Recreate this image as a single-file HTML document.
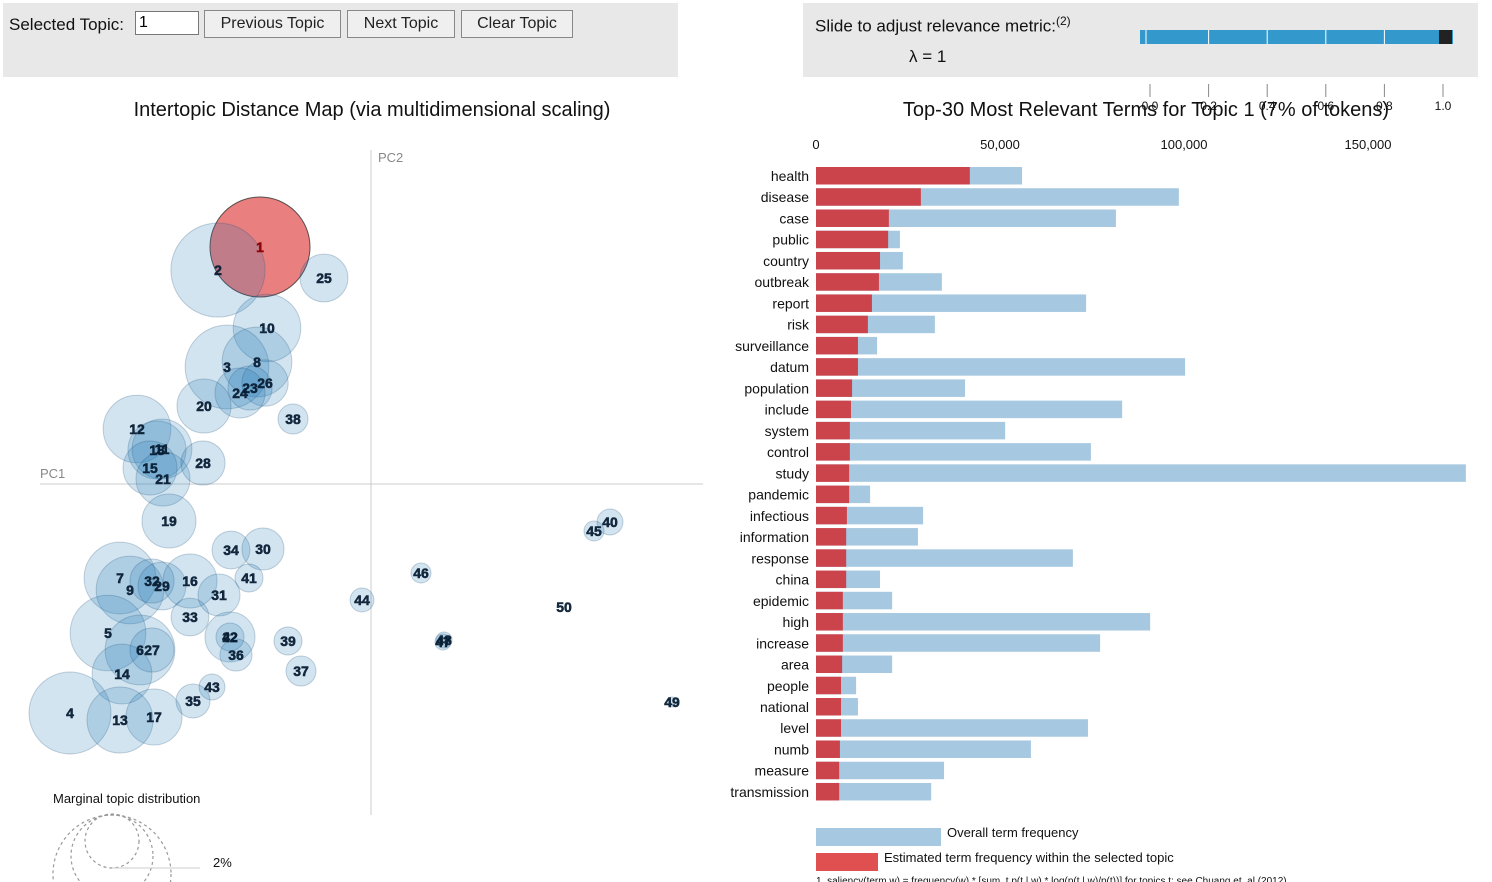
<!DOCTYPE html>
<html><head><meta charset="utf-8"><style>
body{margin:0;width:1492px;height:882px;overflow:hidden;background:#fff;font-family:"Liberation Sans",Arial,sans-serif;}
.panel{position:absolute;background:#e8e8e8;}
button{position:absolute;font-family:"Liberation Sans",sans-serif;font-size:16px;background:#efefef;border:1px solid #888;height:28px;padding:0 12px;color:#222;}
svg{position:absolute;left:0;top:0;}
</style></head><body>
<div class="panel" style="left:3px;top:3px;width:675px;height:74px;">
<span style="position:absolute;left:6px;top:12px;font-size:17px;color:#111;">Selected Topic:</span>
<input value="1" style="position:absolute;left:132px;top:8px;width:56px;height:22px;font-size:16px;border:1px solid #777;padding:0 3px;font-family:'Liberation Sans',sans-serif;">
<button style="left:201px;top:7px;width:137px;">Previous Topic</button>
<button style="left:344px;top:7px;width:108px;">Next Topic</button>
<button style="left:458px;top:7px;width:112px;">Clear Topic</button>
</div>
<div class="panel" style="left:803px;top:3px;width:675px;height:74px;">
<span style="position:absolute;left:12px;top:11px;font-size:17px;color:#111;">Slide to adjust relevance metric:<sup style="font-size:12px;">(2)</sup></span>
<span style="position:absolute;left:106px;top:44px;font-size:17px;color:#111;">λ = 1</span>
</div>
<svg id="chart" width="1492" height="882"></svg>
<script>
const NS="http://www.w3.org/2000/svg";
const svg=document.getElementById('chart');
function mk(tag,attrs,parent){const e=document.createElementNS(NS,tag);for(const k in attrs)e.setAttribute(k,attrs[k]);(parent||svg).appendChild(e);return e;}

// ---- topic map data ----
const topicIds=[1,2,25,10,3,8,23,26,24,20,38,12,18,11,15,21,28,19,34,30,41,7,9,32,29,16,31,33,5,6,27,42,22,36,14,43,35,4,13,17,39,37,44,46,45,40,50,47,48,49];
const pc1=[-1.11,-1.53,-0.47,-1.04,-1.44,-1.14,-1.21,-1.06,-1.31,-1.67,-0.78,-2.34,-2.14,-2.09,-2.21,-2.08,-1.68,-2.02,-1.40,-1.08,-1.22,-2.51,-2.41,-2.19,-2.09,-1.81,-1.52,-1.81,-2.63,-2.31,-2.19,-1.41,-1.41,-1.35,-2.49,-1.59,-1.78,-3.01,-2.51,-2.17,-0.83,-0.70,-0.09,0.50,2.23,2.39,1.93,0.72,0.73,3.01];
const pc2=[2.37,2.14,2.06,1.56,1.17,1.22,0.96,1.01,0.91,0.78,0.65,0.55,0.34,0.35,0.16,0.05,0.21,-0.37,-0.66,-0.65,-0.94,-0.94,-1.06,-0.97,-1.02,-0.97,-1.11,-1.33,-1.49,-1.66,-1.66,-1.53,-1.53,-1.71,-1.90,-2.03,-2.17,-2.29,-2.36,-2.33,-1.57,-1.87,-1.16,-0.89,-0.47,-0.38,-1.23,-1.58,-1.56,-2.18];
const freq=[7.0,6.2,1.6,3.2,4.9,3.4,1.36,1.5,1.75,2.04,0.63,3.2,2.36,2.5,2.04,2.04,1.36,2.04,1.0,1.24,0.55,3.6,3.2,1.36,1.6,2.04,1.24,1.0,4.0,3.4,1.36,1.75,0.55,0.72,2.5,0.47,0.81,4.7,3.05,2.2,0.55,0.63,0.4,0.28,0.28,0.47,0.0,0.18,0.18,0.07];
const selectedTopic=1;
const ox=371, oy=484, unit=100;
const mx=v=>ox+v*unit, my=v=>oy-v*unit, rad=f=>18.9*Math.sqrt(f);

let t=mk('text',{x:372,y:116,'text-anchor':'middle','font-size':20,fill:'#111'});t.textContent='Intertopic Distance Map (via multidimensional scaling)';


let a=mk('line',{x1:371,y1:150,x2:371,y2:815,stroke:'#ccc','stroke-width':1});


a=mk('line',{x1:40,y1:484,x2:703,y2:484,stroke:'#ccc','stroke-width':1});


t=mk('text',{x:378,y:162,'font-size':13,fill:'#888'});t.textContent='PC2';


t=mk('text',{x:40,y:478,'font-size':13,fill:'#888'});t.textContent='PC1';



const gC=mk('g',{}),gL=mk('g',{});
topicIds.forEach((id,i)=>{
  const cx=mx(pc1[i]),cy=my(pc2[i]),r=rad(freq[i]);
  const sel=id===selectedTopic;
  const c=mk('circle',{cx:cx,cy:cy,r:Math.max(r,0.1),fill:sel?'#e04848':'#1f77b4','fill-opacity':sel?0.7:0.2,stroke:sel?'#333':'#1f4f78','stroke-opacity':sel?0.8:0.25,'stroke-width':1},gC);
  
  
  const l=mk('text',{x:cx,y:cy+5,'text-anchor':'middle','font-size':14,'font-weight':'bold',fill:sel?'#8b0000':'#0a1f35','fill-opacity':0.95,stroke:sel?'#8b0000':'#0a1f35','stroke-width':0.5},gL);
  l.textContent=id;
  
  
});
t=mk('text',{x:53,y:803,'font-size':13,fill:'#111'});t.textContent='Marginal topic distribution';


[[841,27],[856,41],[874,59]].forEach((d,i)=>{
  const c=mk('circle',{cx:112,cy:d[0],r:d[1],fill:'none',stroke:'#999','stroke-dasharray':'3,3','stroke-width':1.2});
  
  
});
a=mk('line',{x1:112,y1:868,x2:200,y2:868,stroke:'#ccc'});


t=mk('text',{x:213,y:867,'font-size':13,fill:'#111'});t.textContent='2%';



// ---- bar chart data ----
const terms=['health','disease','case','public','country','outbreak','report','risk','surveillance','datum','population','include','system','control','study','pandemic','infectious','information','response','china','epidemic','high','increase','area','people','national','level','numb','measure','transmission'];
const overallFreq=[56000,98600,81500,22800,23600,34200,73400,32300,16600,100300,40500,83200,51400,74700,176600,14700,29100,27700,69800,17400,20700,90800,77200,20700,10900,11400,73900,58400,34800,31300];
const topicFreq=[41800,28500,19800,19600,17400,17100,15200,14100,11400,11400,9800,9500,9200,9200,9000,9000,8400,8200,8200,8200,7300,7300,7300,7100,6800,6800,6800,6500,6300,6300];
const xTicks=[0,50000,100000,150000];
const xTickLabels=['0','50,000','100,000','150,000'];
const sliderTicks=[0,0.2,0.4,0.6,0.8,1.0];
const sliderTickLabels=['0.0','0.2','0.4','0.6','0.8','1.0'];
const lambdaValue=1;

const bx=v=>816+v*0.00368;
const by=i=>167+i*21.24;
const bh=17.5;

t=mk('text',{x:1146,y:116,'text-anchor':'middle','font-size':20,fill:'#111'});t.textContent='Top-30 Most Relevant Terms for Topic 1 (7% of tokens)';


xTicks.forEach((v,i)=>{
  const tk=mk('text',{x:bx(v),y:149,'text-anchor':'middle','font-size':13,fill:'#111'});tk.textContent=xTickLabels[i];
  
  
});
terms.forEach((term,i)=>{
  const b=mk('rect',{x:bx(0),y:by(i),width:bx(overallFreq[i])-bx(0),height:bh,fill:'#a6c8e0'});
  
  
  const r=mk('rect',{x:bx(0),y:by(i),width:bx(topicFreq[i])-bx(0),height:bh,fill:'#cc444b'});
  
  
  const l=mk('text',{x:809,y:by(i)+14,'text-anchor':'end','font-size':14,fill:'#111'});l.textContent=term;
  
  
});
let lg=mk('rect',{x:816,y:828,width:125,height:18,fill:'#a6c8e0'});


t=mk('text',{x:947,y:837,'font-size':13,fill:'#111'});t.textContent='Overall term frequency';


lg=mk('rect',{x:816,y:853,width:62,height:18,fill:'#e05050'});


t=mk('text',{x:884,y:862,'font-size':13,fill:'#111'});t.textContent='Estimated term frequency within the selected topic';


t=mk('text',{x:816,y:884,'font-size':10,fill:'#111'});t.textContent='1. saliency(term w) = frequency(w) * [sum_t p(t | w) * log(p(t | w)/p(t))] for topics t; see Chuang et. al (2012)';



// slider
const sx=v=>1150+v*293;
const track=mk('rect',{x:1140,y:30,width:313,height:14,fill:'#3399cc'});


sliderTicks.forEach((v,i)=>{
  if(i>0&&i<sliderTicks.length-1){const s=mk('line',{x1:sx(v),y1:30,x2:sx(v),y2:44,stroke:'#fff','stroke-width':1});
  
  }
  const tl=mk('line',{x1:sx(v),y1:84,x2:sx(v),y2:97,stroke:'#888'});
  
  
  const tx=mk('text',{x:sx(v),y:110,'text-anchor':'middle','font-size':12,fill:'#111'});tx.textContent=sliderTickLabels[i];
  
  
});
let s0=mk('line',{x1:1146,y1:30,x2:1146,y2:44,stroke:'#fff'});


const thumb=mk('rect',{x:sx(lambdaValue)-4,y:30,width:13,height:14,fill:'#222'});


</script>
</body></html>
